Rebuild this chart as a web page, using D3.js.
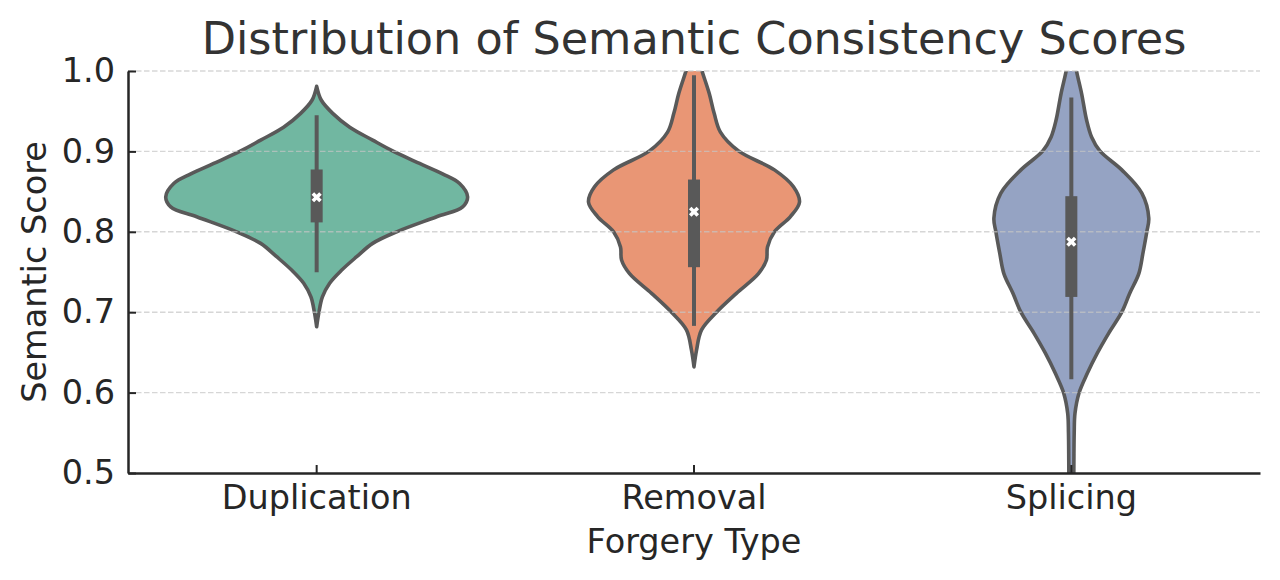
<!DOCTYPE html>
<html>
<head>
<meta charset="utf-8">
<script src="https://cdn.jsdelivr.net/npm/d3@7"></script>
<style>
  html, body { margin: 0; padding: 0; background: #fff; }
  svg { display: block; }
  text { font-family: "DejaVu Sans", sans-serif; }
</style>
</head>
<body>
<svg id="chart" width="1280" height="580"></svg>
<script>
// ---- data ----
const categories = ["Duplication", "Removal", "Splicing"];
const yTicks = [0.5, 0.6, 0.7, 0.8, 0.9, 1.0];

// relative density profiles (score, density)
const dupScores  = [0.981,0.9636,0.947,0.930,0.914,0.9006,0.885,0.872,0.860,0.8435,0.831,0.8187,0.800,0.7856,0.769,0.7524,0.736,0.719,0.700,0.682];
const dupDensity = [0,0.031,0.108,0.219,0.371,0.503,0.682,0.834,0.947,1.0,0.967,0.795,0.530,0.371,0.265,0.166,0.086,0.038,0.015,0];

const remScores  = [1.035,1.015,1.0,0.972,0.947,0.924,0.9006,0.877,0.856,0.837,0.819,0.800,0.781,0.765,0.748,0.7235,0.700,0.678,0.653,0.632];
const remDensity = [0,0.030,0.053,0.101,0.134,0.175,0.295,0.533,0.659,0.699,0.639,0.533,0.487,0.480,0.427,0.281,0.149,0.050,0.017,0];

const splScores  = [1.035,1.015,1.0,0.972,0.939,0.918,0.9006,0.877,0.848,0.817,0.800,0.773,0.748,0.7235,0.700,0.674,0.649,0.624,0.599,0.574,0.55,0.516,0.48];
const splDensity = [0,0.020,0.034,0.068,0.101,0.134,0.189,0.334,0.467,0.513,0.500,0.474,0.447,0.387,0.334,0.248,0.172,0.106,0.050,0.024,0.019,0.017,0.016];

// box statistics
const q1s       = [0.8117, 0.756, 0.719];
const q3s       = [0.8775, 0.865, 0.8443];
const whiskLow  = [0.7496, 0.683, 0.6166];
const whiskHigh = [0.945, 0.9947, 0.967];
const medians   = [0.843, 0.825, 0.7876];

const colors = ["#71b7a1", "#e99675", "#95a3c3"];

// ---- layout ----
const svg = d3.select("#chart");
const mLeft = 128, mRight = 1260, mTop = 71, mBottom = 473;

const x = d3.scaleBand().domain(categories).range([mLeft, mRight]).padding(0);
const y = d3.scaleLinear().domain([0.5, 1.0]).range([mBottom, mTop]);
const w = d3.scaleLinear().domain([0, 1]).range([0, x.bandwidth() * 0.4]);

svg.append("defs").append("clipPath").attr("id", "plotclip")
  .append("rect").attr("x", mLeft).attr("y", mTop)
  .attr("width", mRight - mLeft).attr("height", mBottom - mTop);

const profiles = [
  dupScores.map((s, i) => ({ s, d: dupDensity[i] })),
  remScores.map((s, i) => ({ s, d: remDensity[i] })),
  splScores.map((s, i) => ({ s, d: splDensity[i] }))
];

const gV = svg.append("g").attr("clip-path", "url(#plotclip)");
categories.forEach((c, i) => {
  const cx = x(c) + x.bandwidth() / 2;
  const area = d3.area()
    .y(d => y(d.s))
    .x0(d => cx - w(d.d))
    .x1(d => cx + w(d.d))
    .curve(d3.curveCatmullRom.alpha(0.5));
  gV.append("path")
    .attr("d", area(profiles[i]))
    .attr("fill", colors[i])
    .attr("stroke", "#595959")
    .attr("stroke-width", 3.6)
    .attr("stroke-linejoin", "round");
});

// grid (drawn over violins, semi-transparent)
svg.append("g").selectAll("line").data(yTicks.filter(t => t > 0.5)).join("line")
  .attr("x1", mLeft).attr("x2", mRight)
  .attr("y1", d => y(d)).attr("y2", d => y(d))
  .attr("stroke", "#c4c4c4").attr("stroke-opacity", 0.7)
  .attr("stroke-width", 1.4)
  .attr("stroke-dasharray", "5.5,2.5");

// boxes
const gB = svg.append("g");
categories.forEach((c, i) => {
  const cx = x(c) + x.bandwidth() / 2;
  gB.append("line")
    .attr("x1", cx).attr("x2", cx)
    .attr("y1", y(whiskHigh[i])).attr("y2", y(whiskLow[i]))
    .attr("stroke", "#595959").attr("stroke-width", 4);
  gB.append("rect")
    .attr("x", cx - 6).attr("width", 12)
    .attr("y", y(q3s[i])).attr("height", y(q1s[i]) - y(q3s[i]))
    .attr("fill", "#595959");
  gB.append("path")
    .attr("d", d3.symbol().type(d3.symbolCross).size(64)())
    .attr("transform", `translate(${cx},${y(medians[i])}) rotate(45)`)
    .attr("fill", "#ffffff");
});

// axes
const axisColor = "#262626";
const gy = svg.append("g").attr("transform", `translate(${mLeft},0)`)
  .call(d3.axisLeft(y).tickValues(yTicks).tickFormat(d3.format(".1f"))
    .tickSize(-8).tickSizeOuter(0).tickPadding(13));
const gx = svg.append("g").attr("transform", `translate(0,${mBottom})`)
  .call(d3.axisBottom(x).tickSize(-8).tickSizeOuter(0).tickPadding(12));

[gx, gy].forEach(g => {
  g.select(".domain").attr("stroke", axisColor).attr("stroke-width", 2.5);
  g.selectAll(".tick line").attr("stroke", axisColor).attr("stroke-width", 2);
  g.selectAll(".tick text").attr("fill", axisColor)
    .style("font-family", "DejaVu Sans").style("font-size", "33.5px");
});

// titles
svg.append("text")
  .attr("x", (mLeft + mRight) / 2).attr("y", 54)
  .attr("text-anchor", "middle")
  .attr("fill", "#333333")
  .style("font-size", "44.5px")
  .text("Distribution of Semantic Consistency Scores");

svg.append("text")
  .attr("x", (mLeft + mRight) / 2).attr("y", 553)
  .attr("text-anchor", "middle")
  .attr("fill", axisColor)
  .style("font-size", "33.5px")
  .text("Forgery Type");

svg.append("text")
  .attr("transform", `translate(46,${(mTop + mBottom) / 2}) rotate(-90)`)
  .attr("text-anchor", "middle")
  .attr("fill", axisColor)
  .style("font-size", "33.5px")
  .text("Semantic Score");
</script>
</body>
</html>
